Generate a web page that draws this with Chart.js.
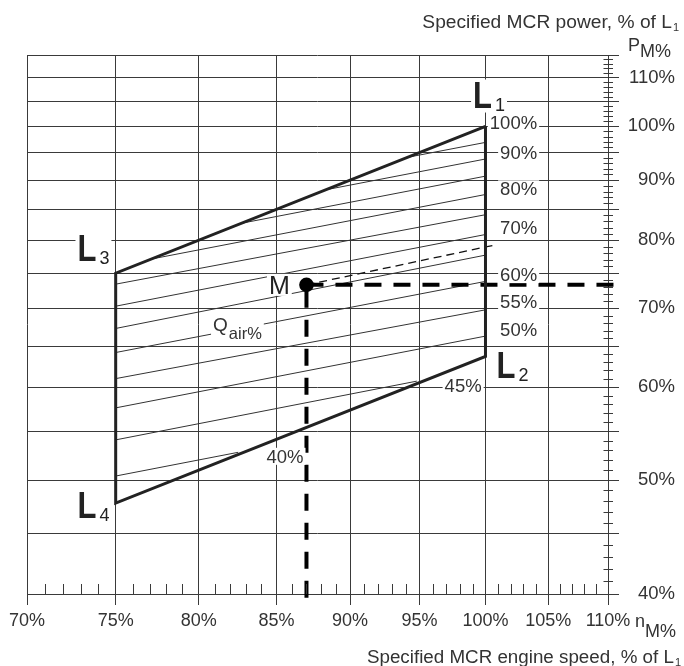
<!DOCTYPE html>
<html>
<head>
<meta charset="utf-8">
<script src="https://cdn.jsdelivr.net/npm/chart.js@4/dist/chart.umd.min.js"></script>
<style>
  html, body { margin: 0; padding: 0; background: #ffffff; }
  #wrap { width: 684px; height: 666px; }
</style>
</head>
<body>
<div id="wrap"><canvas id="layoutChart" width="684" height="666"></canvas></div>
<script>
// ---- axis ticks (percent of L1) ----
const speedTicks = [70, 75, 80, 85, 90, 95, 100, 105, 110];
const powerTicks = [40, 45, 50, 55, 60, 65, 70, 75, 80, 85, 90, 95, 100, 105, 110, 115];
const powerTickLabels = [40, 50, 60, 70, 80, 90, 100, 110];

// ---- layout area corners: L1, L2, L4, L3 ----
const cornerNames = ['1', '2', '4', '3'];
const cornerSpeed = [100, 100, 75, 75];
const cornerPower = [100, 63.7, 47.8, 75];

// ---- constant scavenge air lines (Qair 95% ... 40%) ----
const qairLevels     = [95, 90, 85, 80, 75, 70, 65, 60, 55, 50, 45, 40];
const qairStartSpeed = [94.1, 88.3, 82.7, 77.1, 75, 75, 75, 75, 75, 75, 75, 75];
const qairStartPower = [94.1, 88.3, 82.7, 77.1, 73.4, 70.3, 67.3, 64.2, 61.0, 57.6, 54.1, 50.4];
const qairEndSpeed   = [100, 100, 100, 100, 100, 100, 100, 100, 100, 100, 94.8, 82.5];
const qairEndPower   = [96.9, 93.8, 90.7, 87.5, 84.1, 80.9, 77.7, 73.8, 69.8, 66.3, 60.7, 52.8];

// ---- specified MCR point M ----
const mcrSpeed = 87;
const mcrPower = 73.3;
const mcrAirLineEnd = { speed: 100.6, power: 79.2 };
const mcrSpeedGuideEnd = 111.2;   // horizontal guide runs past the power axis
const mcrPowerGuideEnd = 39.1;    // vertical guide runs past the speed axis

const FONT = '"Liberation Sans", Arial, Helvetica, sans-serif';
const GRID = '#3a3a3a';
const INK = '#222222';
const TEXT = '#333333';

// labels for the air lines
const airLabels = [
  { text: '100%', speed: 104.1, power: 100.7, align: 'right' },
  { text: '90%',  speed: 104.1, power: 95.1,  align: 'right' },
  { text: '80%',  speed: 104.1, power: 88.5,  align: 'right' },
  { text: '70%',  speed: 104.1, power: 82.0,  align: 'right' },
  { text: '60%',  speed: 104.1, power: 74.8,  align: 'right' },
  { text: '55%',  speed: 104.1, power: 71.0,  align: 'right' },
  { text: '50%',  speed: 104.1, power: 67.2,  align: 'right' },
  { text: '45%',  speed: 99.7,  power: 60.2,  align: 'right' },
  { text: '40%',  speed: 86.8,  power: 52.4,  align: 'right' }
];

// ---- datasets ----
const datasets = [];

datasets.push({
  label: 'M',
  data: [{ x: mcrSpeed, y: mcrPower }],
  pointRadius: 7.3, pointBackgroundColor: '#000', pointBorderWidth: 0,
  showLine: false, order: 0
});

const outline = cornerSpeed.map((s, i) => ({ x: s, y: cornerPower[i] }));
outline.push({ x: cornerSpeed[0], y: cornerPower[0] });
datasets.push({
  label: 'layout',
  data: outline,
  showLine: true, borderColor: INK, borderWidth: 3, pointRadius: 0,
  borderJoinStyle: 'miter', tension: 0, order: 1
});

datasets.push({
  label: 'M speed guide',
  data: [{ x: mcrSpeed, y: mcrPower }, { x: mcrSpeedGuideEnd, y: mcrPower }],
  showLine: true, borderColor: '#000', borderWidth: 4, borderDash: [17, 12],
  pointRadius: 0, clip: false, order: 2
});
datasets.push({
  label: 'M power guide',
  data: [{ x: mcrSpeed, y: mcrPower }, { x: mcrSpeed, y: mcrPowerGuideEnd }],
  showLine: true, borderColor: '#000', borderWidth: 4, borderDash: [17, 12],
  borderDashOffset: -6, pointRadius: 0, clip: false, order: 2
});
datasets.push({
  label: 'M air line',
  data: [{ x: mcrSpeed, y: mcrPower }, { x: mcrAirLineEnd.speed, y: mcrAirLineEnd.power }],
  showLine: true, borderColor: '#111', borderWidth: 1.3, borderDash: [8, 5],
  pointRadius: 0, clip: false, order: 3
});

qairLevels.forEach((q, i) => {
  datasets.push({
    label: 'Qair ' + q + '%',
    data: [{ x: qairStartSpeed[i], y: qairStartPower[i] }, { x: qairEndSpeed[i], y: qairEndPower[i] }],
    showLine: true, borderColor: '#333', borderWidth: 1, pointRadius: 0, order: 5
  });
});

// ---- text helpers ----
function fontOf(p) {
  return (p.bold ? 'bold ' : '') + p.size + 'px ' + FONT;
}
function richText(ctx, parts, x, y, align, bg, color) {
  const m = parts.map(p => {
    ctx.font = fontOf(p);
    const mt = ctx.measureText(p.t);
    const sx = p.sx || 1;
    return { p, w: mt.width * sx, asc: mt.actualBoundingBoxAscent, desc: mt.actualBoundingBoxDescent };
  });
  let total = 0;
  m.forEach(e => { total += (e.p.dx || 0) + e.w; });
  const x0 = align === 'right' ? x - total : (align === 'center' ? x - total / 2 : x);
  if (bg) {
    let top = Infinity, bot = -Infinity;
    m.forEach(e => {
      const dy = e.p.dy || 0;
      top = Math.min(top, y + dy - e.asc);
      bot = Math.max(bot, y + dy + e.desc);
    });
    ctx.fillStyle = '#ffffff';
    ctx.fillRect(x0 - 2, top - 2, total + 4, bot - top + 4);
  }
  let cx = x0;
  m.forEach(e => {
    cx += e.p.dx || 0;
    ctx.save();
    ctx.font = fontOf(e.p);
    ctx.fillStyle = e.p.color || color;
    ctx.textAlign = 'left';
    ctx.textBaseline = 'alphabetic';
    ctx.translate(cx, y + (e.p.dy || 0));
    ctx.scale(e.p.sx || 1, 1);
    ctx.fillText(e.p.t, 0, 0);
    ctx.restore();
    cx += e.w;
  });
}

const decor = {
  id: 'decor',
  afterDatasetsDraw(chart) {
    const ctx = chart.ctx;
    const xs = chart.scales.x, ys = chart.scales.y;
    const X = v => xs.getPixelForValue(v);
    const Y = v => ys.getPixelForValue(v);
    const area = chart.chartArea;

    ctx.save();
    // minor ticks, every 1 %
    ctx.strokeStyle = GRID;
    ctx.lineWidth = 1;
    ctx.beginPath();
    for (let v = 41; v < 115; v++) {
      if (v % 5 === 0) continue;
      const py = Math.round(Y(v)) + 0.5;
      ctx.moveTo(area.right - 4.5, py);
      ctx.lineTo(area.right + 5, py);
    }
    for (let v = 71; v < 110; v++) {
      if (v % 5 === 0) continue;
      const px = Math.round(X(v)) + 0.5;
      ctx.moveTo(px, area.bottom);
      ctx.lineTo(px, area.bottom - 10);
    }
    ctx.stroke();

    // air line percentages
    const pctSize = 18.5;
    airLabels.forEach(l => {
      richText(ctx, [{ t: l.text, size: pctSize }], X(l.speed), Y(l.power) + 0.358 * pctSize, l.align, true, TEXT);
    });

    // Qair label
    richText(ctx, [{ t: 'Q', size: 19 }, { t: 'air%', size: 16.5, dy: 8, dx: 1 }], X(80.9), Y(66.9), 'left', true, TEXT);

    // corner labels
    const cornerOffsets = [[-12.4, -18.8], [11, 21.3], [-38.2, 15], [-38.2, -12.1]];
    cornerNames.forEach((n, i) => {
      const cx = X(cornerSpeed[i]) + cornerOffsets[i][0];
      const cy = Y(cornerPower[i]) + cornerOffsets[i][1];
      richText(ctx, [
        { t: 'L', size: 36, bold: true, sx: 0.86 },
        { t: n, size: 18, dx: 3, dy: 3 }
      ], cx, cy, 'left', true, INK);
    });

    // M label
    richText(ctx, [{ t: 'M', size: 25 }], X(mcrSpeed) - 16.7, Y(mcrPower) + 9, 'right', true, INK);

    // axis titles
    richText(ctx, [{ t: 'Specified MCR power, % of L', size: 19.2 }, { t: '1', size: 11, dy: 3, dx: 1 }], 679, 28, 'right', false, TEXT);
    richText(ctx, [{ t: 'P', size: 18 }, { t: 'M%', size: 18, dy: 6, dx: 0 }], 628, 51, 'left', false, TEXT);
    richText(ctx, [{ t: 'n', size: 18 }, { t: 'M%', size: 18, dy: 10, dx: 0 }], 635, 627, 'left', false, TEXT);
    richText(ctx, [{ t: 'Specified MCR engine speed, % of L', size: 18.8 }, { t: '1', size: 11, dy: 3, dx: 1 }], 681, 663, 'right', false, TEXT);
    ctx.restore();
  }
};

const gridOpts = { color: GRID, lineWidth: 1, drawTicks: true, tickLength: 11, tickColor: GRID };

new Chart(document.getElementById('layoutChart'), {
  type: 'scatter',
  data: { datasets },
  options: {
    responsive: false,
    animation: false,
    devicePixelRatio: 1,
    layout: { padding: { left: 27, top: 55, right: 9, bottom: 0 } },
    plugins: { legend: { display: false }, tooltip: { enabled: false } },
    scales: {
      x: {
        type: 'logarithmic', min: 70, max: 110, bounds: 'data',
        afterBuildTicks: s => { s.ticks = speedTicks.map(v => ({ value: v })); },
        afterFit: s => { s.height = 72; },
        grid: gridOpts,
        border: { display: true, color: GRID, width: 1 },
        ticks: {
          autoSkip: false, maxRotation: 0, padding: 5, color: TEXT,
          font: { family: FONT, size: 18 },
          callback: v => v + '%'
        }
      },
      y: {
        type: 'logarithmic', position: 'right', min: 40, max: 115, bounds: 'data',
        afterBuildTicks: s => { s.ticks = powerTicks.map(v => ({ value: v })); },
        afterFit: s => { s.width = 67; },
        grid: gridOpts,
        border: { display: true, color: GRID, width: 1 },
        ticks: {
          autoSkip: false, crossAlign: 'far', padding: 0, color: TEXT,
          font: { family: FONT, size: 18.5 },
          callback: v => powerTickLabels.includes(v) ? v + '%' : ''
        }
      }
    }
  },
  plugins: [decor]
});
</script>
</body>
</html>
